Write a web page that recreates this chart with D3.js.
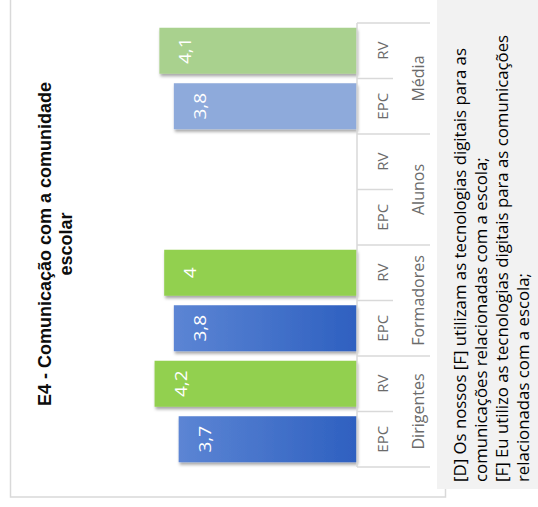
<!DOCTYPE html>
<html>
<head>
<meta charset="utf-8">
<script src="https://cdn.jsdelivr.net/npm/d3@7"></script>
<style>
  html, body { margin: 0; padding: 0; background: #ffffff; }
  svg { display: block; }
</style>
</head>
<body>
<svg id="chart" width="538" height="507"></svg>
<script>
// ---- data ----
const groups = ["Dirigentes", "Formadores", "Alunos", "Média"];
const series = ["EPC", "RV"];
const epcValues = [3.7, 3.8, null, 3.8];
const rvValues = [4.2, 4.0, null, 4.1];
const titleLines = ["E4 - Comunicação com a comunidade", "escolar"];
const legendLines = [
  "[D] Os nossos [F] utilizam as tecnologias digitais para as",
  "comunicações relacionadas com a escola;",
  "[F] Eu utilizo as tecnologias digitais para as comunicações",
  "relacionadas com a escola;"
];

// ---- setup ----
const svg = d3.select("#chart");
const ptLocale = d3.formatLocale({decimal: ",", thousands: ".", grouping: [3], currency: ["", "€"]});
const fmt = ptLocale.format("~g");

const rows = [];
groups.forEach((g, i) => {
  rows.push({group: g, series: "EPC", value: epcValues[i]});
  rows.push({group: g, series: "RV", value: rvValues[i]});
});

const axisX = 357;
const x = d3.scaleLinear().domain([0, 5]).range([axisX, axisX - 5 * 48.2]);
const yGroup = d3.scaleBand().domain(groups).range([467, 23]);
const ySeries = d3.scaleBand().domain(series).range([yGroup.bandwidth(), 0])
  .paddingInner(0.171).paddingOuter(0.0856);

const defs = svg.append("defs");
const grad = defs.append("linearGradient").attr("id", "blueGrad")
  .attr("x1", 0).attr("x2", 1).attr("y1", 0).attr("y2", 0);
grad.append("stop").attr("offset", "0%").attr("stop-color", "#5c85d4");
grad.append("stop").attr("offset", "100%").attr("stop-color", "#2e60c0");
const shadow = defs.append("filter").attr("id", "shadow")
  .attr("x", "-10%").attr("y", "-20%").attr("width", "130%").attr("height", "150%");
shadow.append("feDropShadow").attr("dx", 1).attr("dy", 2.5).attr("stdDeviation", 1.6)
  .attr("flood-color", "#000").attr("flood-opacity", 0.35);

function barFill(d) {
  if (d.group === "Média") return d.series === "EPC" ? "#8eaadb" : "#a9d18e";
  return d.series === "EPC" ? "url(#blueGrad)" : "#92d050";
}

// chart border
svg.append("rect").attr("x", 10.5).attr("y", -10).attr("width", 435).attr("height", 507)
  .attr("fill", "none").attr("stroke", "#d9d9d9").attr("stroke-width", 1.5);

// bars
const barRows = rows.filter(d => d.value != null);
svg.append("g").selectAll("rect").data(barRows).join("rect")
  .attr("x", d => x(d.value))
  .attr("y", d => yGroup(d.group) + ySeries(d.series))
  .attr("width", d => x(0) - x(d.value))
  .attr("height", ySeries.bandwidth())
  .attr("fill", barFill)
  .attr("filter", "url(#shadow)");

// value labels
svg.append("g").selectAll("text").data(barRows).join("text")
  .attr("transform", d => `translate(${x(d.value) + 25.5},${yGroup(d.group) + ySeries(d.series) + ySeries.bandwidth() / 2}) rotate(-90) scale(1.12,1)`)
  .attr("text-anchor", "middle")
  .attr("dominant-baseline", "central")
  .attr("font-family", "'Open Sans', sans-serif")
  .attr("font-size", 17)
  .attr("fill", "#ffffff")
  .text(d => fmt(d.value));

// category axis
const axisG = svg.append("g").attr("stroke", "#d9d9d9").attr("stroke-width", 1.5);
axisG.append("line").attr("x1", axisX).attr("x2", axisX)
  .attr("y1", yGroup.range()[1]).attr("y2", yGroup.range()[0]);
const groupEdges = groups.map(g => yGroup(g)).concat([yGroup(groups[0]) + yGroup.bandwidth()]);
axisG.selectAll(".long").data(groupEdges).join("line")
  .attr("x1", axisX).attr("x2", 430).attr("y1", d => d).attr("y2", d => d);
axisG.selectAll(".short").data(groups).join("line")
  .attr("x1", axisX).attr("x2", 393)
  .attr("y1", g => yGroup(g) + yGroup.bandwidth() / 2)
  .attr("y2", g => yGroup(g) + yGroup.bandwidth() / 2);

svg.append("g").selectAll("text").data(rows).join("text")
  .attr("transform", d => `translate(382,${yGroup(d.group) + ySeries.step() * (series.length - 1 - series.indexOf(d.series)) + yGroup.bandwidth() / 4}) rotate(-90)`)
  .attr("text-anchor", "middle")
  .attr("dominant-baseline", "central")
  .attr("font-family", "'Open Sans', sans-serif")
  .attr("font-size", 15)
  .attr("fill", "#6b6b6b")
  .text(d => d.series);

svg.append("g").selectAll("text").data(groups).join("text")
  .attr("transform", g => `translate(418,${yGroup(g) + yGroup.bandwidth() / 2}) rotate(-90)`)
  .attr("text-anchor", "middle")
  .attr("dominant-baseline", "central")
  .attr("font-family", "'Open Sans', sans-serif")
  .attr("font-size", 16)
  .attr("fill", "#6b6b6b")
  .text(g => g);

// title
svg.append("g").selectAll("text").data(titleLines).join("text")
  .attr("transform", (t, i) => `translate(${51 + i * 21},244) rotate(-90)`)
  .attr("text-anchor", "middle")
  .attr("font-family", "'Liberation Sans', Arial, sans-serif")
  .attr("font-weight", "bold")
  .attr("font-size", 18)
  .attr("fill", "#0d0d0d")
  .text(t => t);

// legend box
svg.append("rect").attr("x", 437).attr("y", 0).attr("width", 101).attr("height", 489)
  .attr("fill", "#f2f2f2");
svg.append("g").selectAll("text").data(legendLines).join("text")
  .attr("transform", (t, i) => `translate(${466 + i * 21},482) rotate(-90)`)
  .attr("text-anchor", "start")
  .attr("font-family", "'Open Sans', sans-serif")
  .attr("font-size", 16.8)
  .attr("fill", "#000000")
  .text(t => t);
</script>
</body>
</html>
